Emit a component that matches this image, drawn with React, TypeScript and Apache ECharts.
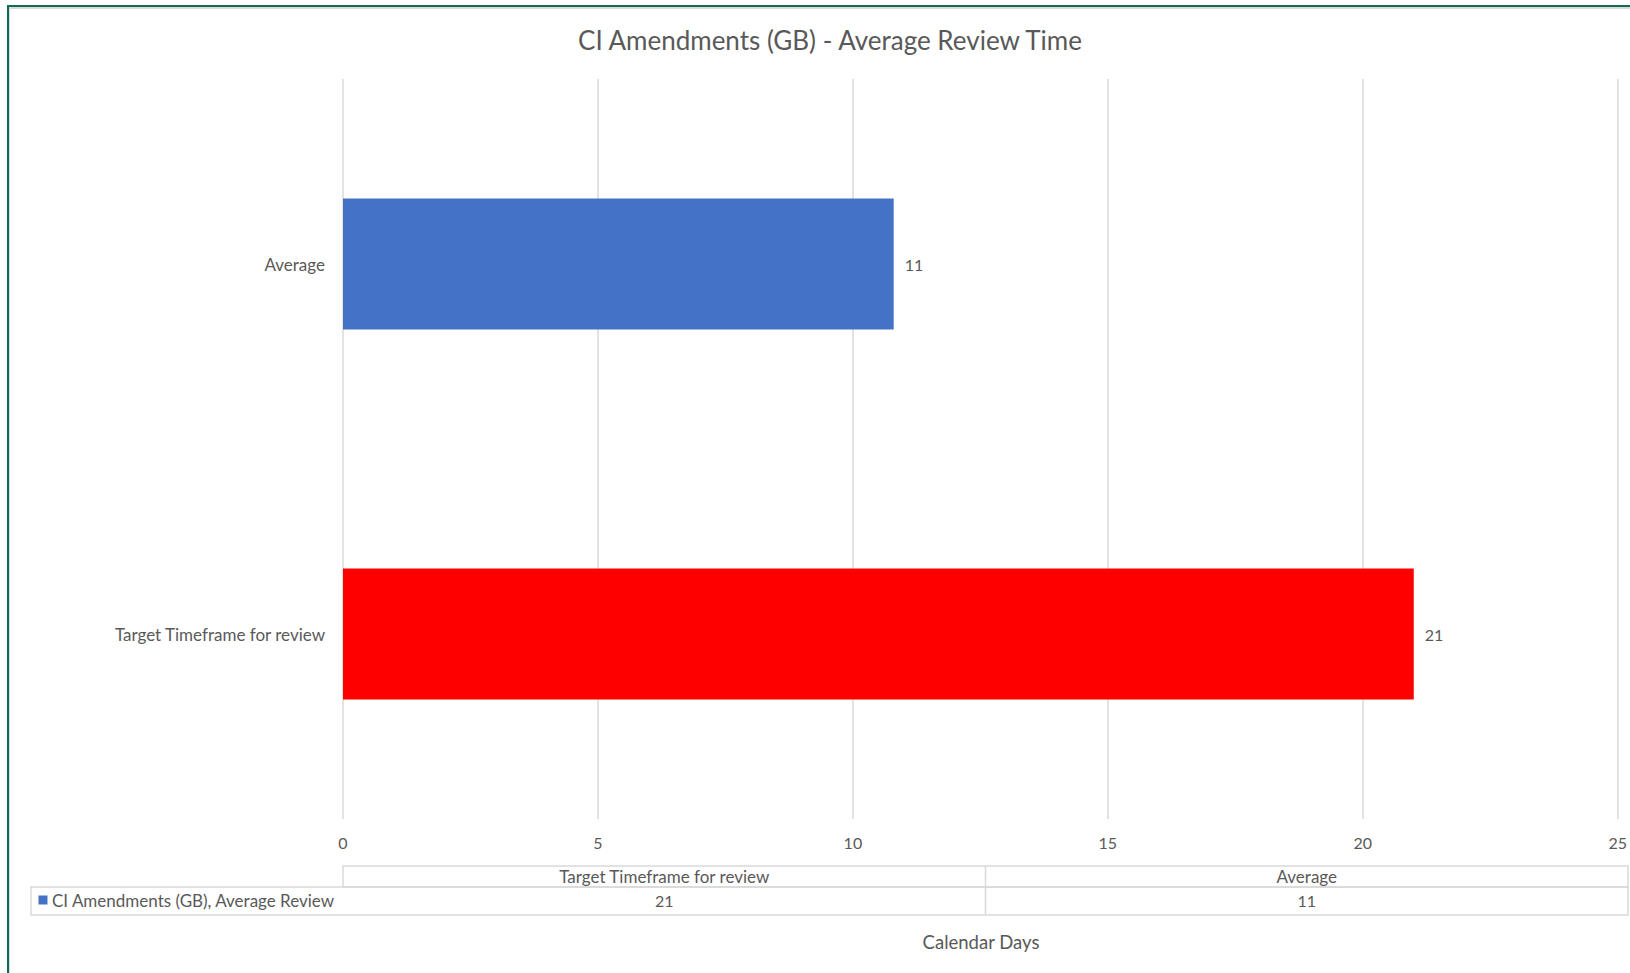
import React, { useEffect, useRef } from 'react';
import * as echarts from 'echarts';

// ---- data ----
const categories: string[] = ['Target Timeframe for review', 'Average'];
const values: number[] = [21, 10.8];
const seriesName = 'CI Amendments (GB), Average Review';
const titleText = 'CI Amendments (GB) - Average Review Time';
const xAxisTitle = 'Calendar Days';
const xMin = 0;
const xMax = 25;
const xInterval = 5;

// ---- style ----
const barColors: string[] = ['#FF0000', '#4472C4'];
const legendColor = '#4472C4';
const textColor = '#595959';
const gridColor = '#D9D9D9';
const FONT = 'Lato';

export default function App() {
  const ref = useRef<HTMLDivElement>(null);
  useEffect(() => {
    if (!ref.current) return;
    const chart = echarts.init(ref.current, undefined, { renderer: 'svg' });

    const W = 1630;
    const tableLeft = 31;
    const colLeft = 343;
    const tableRight = 1628;
    const headTop = 866;
    const rowMid = 887;
    const tableBottom = 915;
    const n = categories.length;
    const colW = (tableRight - colLeft) / n;

    const tableEls: any[] = [];
    tableEls.push({
      type: 'rect', silent: true,
      shape: { x: colLeft, y: headTop, width: tableRight - colLeft, height: rowMid - headTop },
      style: { fill: 'none', stroke: gridColor, lineWidth: 1.5 },
    });
    tableEls.push({
      type: 'rect', silent: true,
      shape: { x: tableLeft, y: rowMid, width: tableRight - tableLeft, height: tableBottom - rowMid },
      style: { fill: 'none', stroke: gridColor, lineWidth: 1.5 },
    });
    for (let i = 1; i < n; i++) {
      const x = colLeft + colW * i;
      tableEls.push({
        type: 'line', silent: true,
        shape: { x1: x, y1: headTop, x2: x, y2: tableBottom },
        style: { stroke: gridColor, lineWidth: 1.5 },
      });
    }
    categories.forEach((c, i) => {
      const cx = colLeft + colW * (i + 0.5);
      tableEls.push({
        type: 'text', silent: true, x: cx, y: (headTop + rowMid) / 2 - 0.5,
        style: { text: c, fill: textColor, font: `17px ${FONT}`, align: 'center', verticalAlign: 'middle' },
      });
      tableEls.push({
        type: 'text', silent: true, x: cx, y: (rowMid + tableBottom) / 2 - 1,
        style: { text: String(Math.round(values[i])), fill: textColor, font: `16px ${FONT}`, align: 'center', verticalAlign: 'middle' },
      });
    });
    tableEls.push({
      type: 'rect', silent: true,
      shape: { x: 38.5, y: 895.5, width: 9, height: 9 },
      style: { fill: legendColor },
    });
    tableEls.push({
      type: 'text', silent: true, x: 52, y: (rowMid + tableBottom) / 2 - 1,
      style: { text: seriesName, fill: textColor, font: `17px ${FONT}`, align: 'left', verticalAlign: 'middle' },
    });

    chart.setOption({
      animation: false,
      backgroundColor: '#ffffff',
      textStyle: { fontFamily: FONT },
      grid: { left: 343, right: 11, top: 79, bottom: 154, containLabel: false },
      xAxis: {
        type: 'value',
        min: xMin,
        max: xMax,
        interval: xInterval,
        axisLine: { show: false },
        axisTick: { show: false },
        axisLabel: { color: textColor, fontSize: 16, fontFamily: FONT, margin: 15 },
        splitLine: { show: true, lineStyle: { color: gridColor, width: 1.5 } },
      },
      yAxis: {
        type: 'category',
        data: categories,
        axisLine: { show: false },
        axisTick: { show: false },
        axisLabel: { color: textColor, fontSize: 17, fontFamily: FONT, margin: 18 },
        splitLine: { show: false },
      },
      series: [
        {
          name: seriesName,
          type: 'bar',
          barWidth: 131,
          data: values.map((v, i) => ({ value: v, itemStyle: { color: barColors[i] } })),
          label: {
            show: true,
            position: 'right',
            distance: 11,
            color: textColor,
            fontSize: 16,
            fontFamily: FONT,
            formatter: (p: any) => String(Math.round(p.value)),
          },
        },
      ],
      graphic: [
        // frame
        { type: 'line', silent: true, shape: { x1: 7, y1: 6, x2: W, y2: 6 }, style: { stroke: '#0E6B56', lineWidth: 2 } },
        { type: 'line', silent: true, shape: { x1: 8, y1: 5, x2: 8, y2: 973 }, style: { stroke: '#0E6B56', lineWidth: 2 } },
        { type: 'line', silent: true, shape: { x1: 9, y1: 8, x2: W, y2: 8 }, style: { stroke: '#D9D9D9', lineWidth: 2 } },
        { type: 'line', silent: true, shape: { x1: 9.5, y1: 7, x2: 9.5, y2: 973 }, style: { stroke: '#D9D9D9', lineWidth: 1 } },
        // title
        {
          type: 'text', silent: true, x: 830, y: 40,
          style: { text: titleText, fill: textColor, font: `26px ${FONT}`, align: 'center', verticalAlign: 'middle' },
        },
        // axis title
        {
          type: 'text', silent: true, x: 981, y: 942,
          style: { text: xAxisTitle, fill: textColor, font: `18.5px ${FONT}`, align: 'center', verticalAlign: 'middle' },
        },
        ...tableEls,
      ],
    });
    return () => chart.dispose();
  }, []);
  return (
    <div
      ref={ref}
      style={{ position: 'absolute', left: 0, top: 0, width: 1630, height: 973, background: '#fff' }}
    />
  );
}
